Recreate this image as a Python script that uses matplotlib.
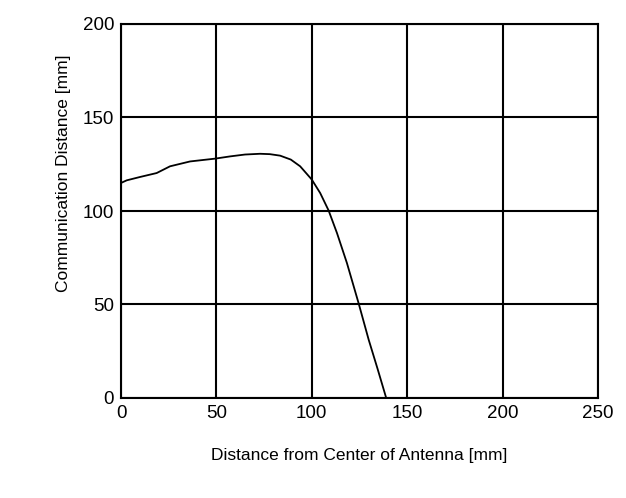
import matplotlib
matplotlib.use('Agg')
import matplotlib.pyplot as plt

# data
dist_center = [0, 3, 10, 18.7, 25.7, 36.2, 49.3, 57.2, 65, 72.9, 78, 83.4, 89, 93.9,
               100, 104.4, 108.8, 113.2, 118.4, 124.5, 129.8, 134.5, 139]
comm_dist = [115, 116.4, 118.2, 120.3, 123.9, 126.5, 128, 129.2, 130.2, 130.6, 130.4, 129.6, 127.5, 123.9,
             116.8, 109.6, 100.3, 88.2, 72.2, 50.8, 31.2, 15.5, 0]

x_ticks = [0, 50, 100, 150, 200, 250]
y_ticks = [0, 50, 100, 150, 200]

plt.rcParams['font.family'] = ['Liberation Sans', 'DejaVu Sans']

fig = plt.figure(figsize=(6.26, 4.98), dpi=100)
ax = fig.add_axes([121 / 626, 1 - 398 / 498, 477 / 626, 374 / 498])

ax.plot(dist_center, comm_dist, color='black', lw=1.3)

ax.set_xlim(0, 250)
ax.set_ylim(0, 200)
ax.set_xticks(x_ticks)
ax.set_yticks(y_ticks)
ax.grid(True, color='black', lw=1.5)
for s in ax.spines.values():
    s.set_linewidth(1.5)
ax.tick_params(length=0, labelsize=13.5, pad=5)

ax.set_xlabel('Distance from Center of Antenna [mm]', fontsize=12.5)
ax.xaxis.set_label_coords(0.5, -0.135)
ax.set_ylabel('Communication Distance [mm]', fontsize=12.5)
ax.yaxis.set_label_coords(-0.105, 0.6)

fig.savefig('out.png', dpi=100)
